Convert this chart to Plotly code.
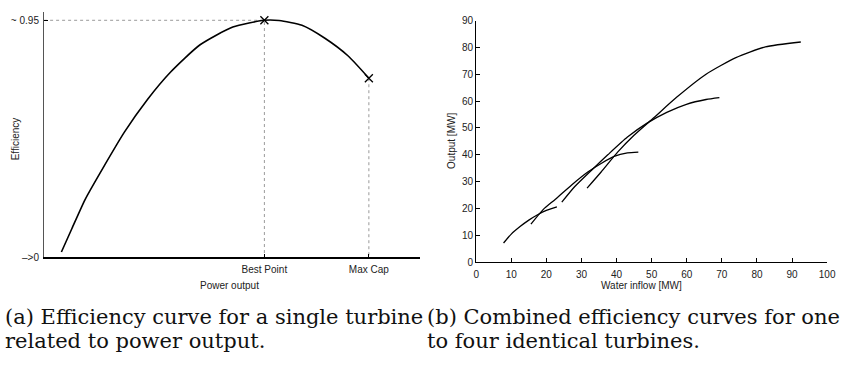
import plotly.graph_objects as go

W, H = 845, 366

# ---- Panel (a): efficiency vs power output (arbitrary units) ----
eff_x = [4.6, 7.4, 10.9, 15.3, 21.4, 27.5, 33.6, 41.5, 50.2, 58.6, 62.5, 68.6, 74.7, 80.9, 86.4]
eff_y = [0.022, 0.116, 0.232, 0.349, 0.503, 0.633, 0.742, 0.852, 0.923, 0.950, 0.949, 0.930, 0.878, 0.807, 0.718]
best_x, best_y = 58.6, 0.950
max_x, max_y = 86.4, 0.718
a_xticks = [best_x, max_x]
a_xticklabels = ["Best Point", "Max Cap"]
a_yticks = [0.0, 0.95]
a_yticklabels = ["–>0", "~ 0.95"]

# ---- Panel (b): combined curves for one to four turbines ----
t1_x = [7.8, 10.0, 12.5, 15.0, 17.5, 20.0, 23.0]
t1_y = [7.2, 10.5, 13.3, 15.7, 17.7, 19.3, 20.6]
t2_x = [15.6, 19.2, 22.5, 27.2, 31.8, 35.6, 39.3, 43.1, 46.2]
t2_y = [14.2, 19.8, 23.4, 28.8, 33.6, 36.8, 39.4, 40.7, 41.0]
t3_x = [24.4, 28.1, 32.8, 37.5, 43.1, 48.7, 54.3, 59.9, 65.5, 69.3]
t3_y = [22.4, 28.2, 34.2, 40.0, 46.6, 51.8, 55.8, 58.8, 60.6, 61.3]
t4_x = [31.6, 35.6, 40.3, 44.9, 50.6, 57.1, 65.5, 74.0, 82.4, 92.5]
t4_y = [27.6, 33.6, 41.0, 47.2, 53.8, 61.4, 70.0, 76.2, 80.2, 82.0]
b_xticks = [0, 10, 20, 30, 40, 50, 60, 70, 80, 90, 100]
b_yticks = [0, 10, 20, 30, 40, 50, 60, 70, 80, 90]

def px_x(p):
    return p / W

def px_y(p):
    return 1 - p / H

fig = go.Figure()

# dotted guide lines (panel a)
fig.add_trace(go.Scatter(x=[0, best_x, best_x], y=[best_y, best_y, 0], mode="lines",
                         line=dict(color="#9a9a9a", width=1, dash="dot"),
                         xaxis="x", yaxis="y", showlegend=False, hoverinfo="skip"))
fig.add_trace(go.Scatter(x=[max_x, max_x], y=[max_y, 0], mode="lines",
                         line=dict(color="#9a9a9a", width=1, dash="dot"),
                         xaxis="x", yaxis="y", showlegend=False, hoverinfo="skip"))
fig.add_trace(go.Scatter(x=eff_x, y=eff_y, mode="lines",
                         line=dict(color="black", width=1.6, shape="spline", smoothing=0.6),
                         xaxis="x", yaxis="y", showlegend=False))
fig.add_trace(go.Scatter(x=[best_x, max_x], y=[best_y, max_y], mode="markers",
                         marker=dict(symbol="x-thin", size=8, line=dict(color="black", width=1.3)),
                         xaxis="x", yaxis="y", showlegend=False))

for xs, ys in [(t1_x, t1_y), (t2_x, t2_y), (t3_x, t3_y), (t4_x, t4_y)]:
    fig.add_trace(go.Scatter(x=xs, y=ys, mode="lines",
                             line=dict(color="black", width=1.3, shape="spline", smoothing=0.6),
                             xaxis="x2", yaxis="y2", showlegend=False))

tickfont = dict(family="Liberation Sans, Arial, sans-serif", size=10, color="#222")
common = dict(showgrid=False, zeroline=False, showline=True, ticks="inside",
              ticklen=4, tickcolor="black", tickfont=tickfont, mirror=False)

fig.update_layout(
    width=W, height=H, margin=dict(l=0, r=0, t=0, b=0),
    paper_bgcolor="white", plot_bgcolor="white",
    xaxis=dict(domain=[px_x(41.7), px_x(423)], range=[0, 100], tickvals=a_xticks,
               ticktext=a_xticklabels, anchor="y", linecolor="black", linewidth=1.5,
               ticklabelstandoff=2, **common),
    yaxis=dict(domain=[px_y(260), px_y(6)], range=[0, 0.984], tickvals=a_yticks,
               ticktext=a_yticklabels, anchor="x", linecolor="#555", linewidth=1.3,
               ticklabelstandoff=2, **common),
    xaxis2=dict(domain=[px_x(480), px_x(836)], range=[0, 100], tickvals=b_xticks,
                anchor="y2", linecolor="black", linewidth=1, ticklabelstandoff=3, **common),
    yaxis2=dict(domain=[px_y(265), px_y(15)], range=[0, 90], tickvals=b_yticks,
                anchor="x2", linecolor="black", linewidth=1, **common),
)

labfont = dict(family="Liberation Sans, Arial, sans-serif", size=10, color="#222")
capfont = dict(family="DejaVu Serif, serif", size=21, color="#111")
ann = [
    dict(text="Efficiency", x=px_x(13), y=px_y(137), textangle=-90, font=labfont),
    dict(text="Power output", x=px_x(230), y=px_y(289), font=labfont),
    dict(text="Water inflow [MW]", x=px_x(648), y=px_y(289), font=labfont),
    dict(text="Output [MW]", x=px_x(455), y=px_y(140), textangle=-90, font=labfont),
]
for a in ann:
    a.update(xref="paper", yref="paper", showarrow=False, xanchor="center", yanchor="middle")
caps = [
    ("(a) Efficiency curve for a single turbine", 0, 322),
    ("related to power output.", 0, 346),
    ("(b) Combined efficiency curves for one", 428, 322),
    ("to four identical turbines.", 428, 346),
]
for t, x, y in caps:
    ann.append(dict(text=t, x=px_x(x), y=px_y(y), xref="paper", yref="paper",
                    showarrow=False, xanchor="left", yanchor="middle", font=capfont))
fig.update_layout(annotations=ann)

fig.write_html("out.html")
